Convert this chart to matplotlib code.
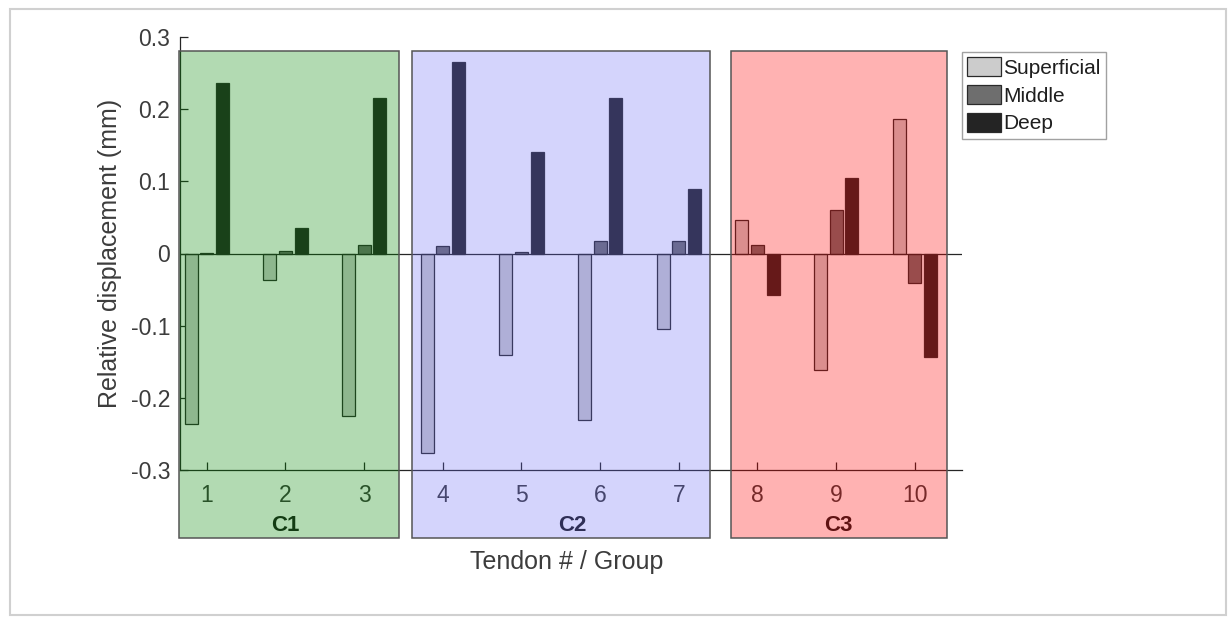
import matplotlib
matplotlib.use("Agg")
import matplotlib.pyplot as plt
from matplotlib.patches import Rectangle, Patch
import numpy as np

plt.rcParams['font.family'] = ['Liberation Sans', 'DejaVu Sans']
plt.rcParams['axes.unicode_minus'] = False

# -----------------------------------------------------------------------------
# data
tendons = np.arange(1, 11)
superficial = [-0.236, -0.037, -0.225, -0.276, -0.141, -0.231, -0.105, 0.046, -0.162, 0.186]
middle = [0.001, 0.004, 0.012, 0.010, 0.002, 0.017, 0.018, 0.012, 0.060, -0.041]
deep = [0.236, 0.035, 0.215, 0.266, 0.141, 0.215, 0.089, -0.058, 0.104, -0.144]
layer_names = ["Superficial", "Middle", "Deep"]
groups = ["C1", "C2", "C3"]
group_spans = [(0.65, 3.44), (3.61, 7.40), (7.67, 10.41)]
group_label_x = [2.0, 5.65, 9.03]
# -----------------------------------------------------------------------------

layer_grey = ['#cccccc', '#6e6e6e', '#242424']
group_rgba = [(0.0, 0.53, 0.0, 0.3), (0.39, 0.39, 0.96, 0.27), (1.0, 0.0, 0.0, 0.3)]
txt = '#3c3c3c'

fig = plt.figure(figsize=(12.29, 6.19), dpi=100)
ax = fig.add_axes([180 / 1229, 149 / 619, 782 / 1229, 433 / 619])

w = 0.165
off = 0.2
for i, vals in enumerate([superficial, middle, deep]):
    ax.bar(tendons + (i - 1) * off, vals, width=w, color=layer_grey[i],
           edgecolor='#2a2a2a', linewidth=0.9, zorder=2)

ax.axhline(0, color='#262626', lw=0.9, zorder=3)

ax.set_xlim(0.66, 10.6)
ax.set_ylim(-0.3, 0.3)
ax.set_yticks([-0.3, -0.2, -0.1, 0, 0.1, 0.2, 0.3])
ax.set_yticklabels(["-0.3", "-0.2", "-0.1", "0", "0.1", "0.2", "0.3"])
ax.set_xticks(tendons)
ax.set_xticklabels([str(t) for t in tendons])

for s in ['top', 'right']:
    ax.spines[s].set_visible(False)
for s in ['left', 'bottom']:
    ax.spines[s].set_color('#262626')
    ax.spines[s].set_linewidth(0.9)
ax.tick_params(axis='both', direction='in', length=6, width=0.9, color='#262626',
               labelsize=16.5, labelcolor=txt)
ax.tick_params(axis='x', pad=10)
ax.tick_params(axis='y', pad=7)
ax.patch.set_visible(False)

ax.set_ylabel("Relative displacement (mm)", fontsize=18, color=txt)
ax.yaxis.set_label_coords(-0.074, 0.5)
ax.set_xlabel("Tendon # / Group", fontsize=18, color=txt)
ax.xaxis.set_label_coords(0.494, -0.185)

# group labels (drawn under the tinted boxes)
for name, gx in zip(groups, group_label_x):
    ax.text(gx, -0.3 - 55 / 720, name, ha='center', va='center', fontsize=16,
            fontweight='bold', color='#1c1c1c', zorder=4, clip_on=False)

# translucent group boxes on top
for (x0, x1), rgba in zip(group_spans, group_rgba):
    ax.add_patch(Rectangle((x0, -0.394), x1 - x0, 0.28 + 0.394, facecolor=rgba,
                           edgecolor='#555555', linewidth=1.1, zorder=10, clip_on=False))

handles = [Patch(facecolor=c, edgecolor='#2a2a2a', linewidth=0.9) for c in layer_grey]
leg = ax.legend(handles, layer_names, loc='upper left', bbox_to_anchor=(1.0, 0.965),
                borderaxespad=0, fontsize=15, frameon=True, fancybox=False,
                handlelength=1.6, handleheight=1.0, handletextpad=0.13,
                labelspacing=0.35, borderpad=0.25)
leg.get_frame().set_edgecolor('#8a8a8a')
leg.get_frame().set_linewidth(1.0)
for t in leg.get_texts():
    t.set_color('#1e1e1e')

# faint screenshot frame
fig.add_artist(Rectangle((10 / 1229, 4 / 619), 1216 / 1229, 606 / 619,
                         transform=fig.transFigure, fill=False,
                         edgecolor='#d0d0d0', linewidth=1.5))

fig.savefig("out.png", dpi=100)
